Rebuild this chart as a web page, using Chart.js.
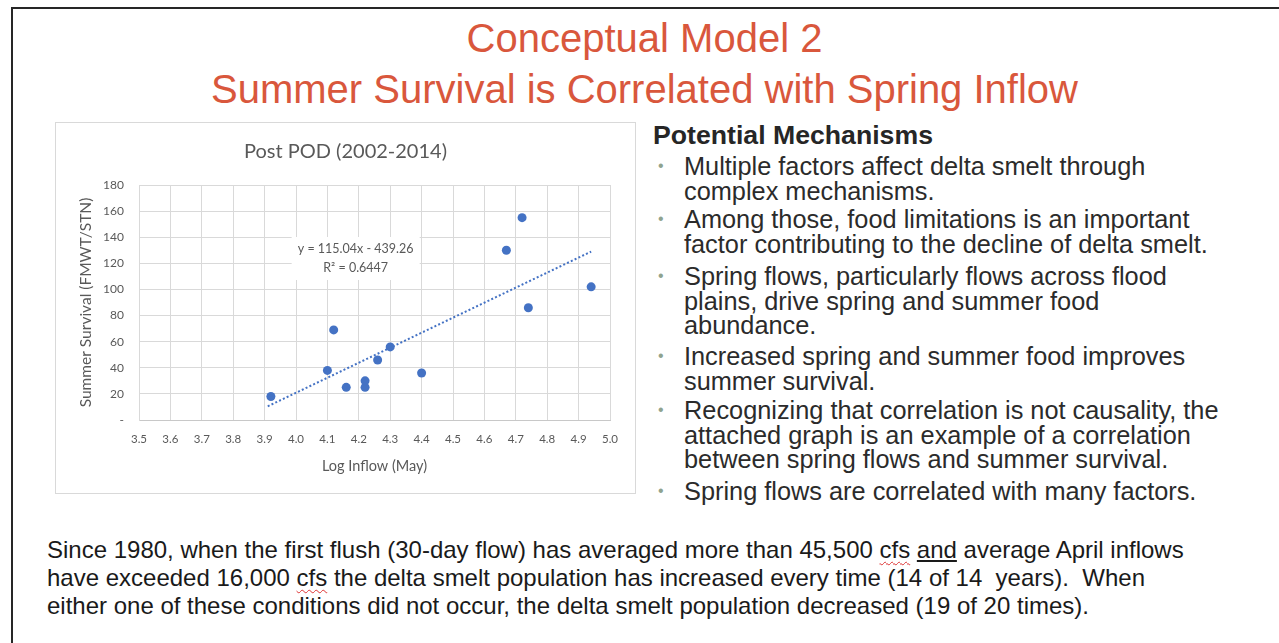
<!DOCTYPE html>
<html lang="en">
<head>
    <meta charset="UTF-8">
    <title>Conceptual Model 2 - Summer Survival is Correlated with Spring Inflow</title>
    <script src="https://cdn.jsdelivr.net/npm/chart.js"></script>
    <style>
        body {
            margin: 0;
            width: 1279px;
            height: 643px;
            overflow: hidden;
            position: relative;
            background: #fff;
            font-family: 'Liberation Sans', Arial, sans-serif;
        }
        #frame {
            position: absolute;
            left: 11px;
            top: 7px;
            width: 1300px;
            height: 700px;
            border-top: 2px solid #262626;
            border-left: 2px solid #262626;
        }
        .headline {
            position: absolute;
            left: 0;
            width: 1289px;
            text-align: center;
            color: #d9573c;
            font-size: 40px;
            line-height: 51px;
            white-space: nowrap;
        }
        #chartBox {
            position: absolute;
            left: 55px;
            top: 122px;
            width: 581px;
            height: 372px;
        }
        #chartBox canvas { position: absolute; left: 0; top: 0; }
        #chartBorder {
            position: absolute;
            left: 0; top: 0;
            width: 581px; height: 372px;
            box-sizing: border-box;
            border: 1px solid #d9d9d9;
            pointer-events: none;
        }
        #mechTitle {
            position: absolute;
            left: 653px;
            top: 120px;
            font-size: 26.67px;
            line-height: 30px;
            font-weight: bold;
            color: #262626;
            white-space: nowrap;
        }
        .item {
            position: absolute;
            left: 684px;
            font-size: 25.33px;
            line-height: 24.5px;
            color: #2b2b2b;
            white-space: nowrap;
        }
        .item::before {
            content: '\2022';
            position: absolute;
            left: -26px;
            top: 0;
            font-size: 16px;
            color: #8fa38f;
        }
        #note {
            position: absolute;
            left: 47px;
            top: 536px;
            font-size: 24px;
            line-height: 28px;
            color: #1a1a1a;
            white-space: nowrap;
        }
        .sp { text-decoration: underline wavy #d33; text-decoration-thickness: 1px; text-underline-offset: 3px; }
        .ul { text-decoration: underline; }
    </style>
</head>
<body>
    <div id="frame"></div>
    <div class="headline" style="top:13px">Conceptual Model 2</div>
    <div class="headline" style="top:64px">Summer Survival is Correlated with Spring Inflow</div>

    <div id="chartBox">
        <canvas id="chart" width="581" height="372"></canvas>
        <div id="chartBorder"></div>
    </div>

    <div id="mechTitle">Potential Mechanisms</div>
    <div class="item" style="top:154px">Multiple factors affect delta smelt through<br>complex mechanisms.</div>
    <div class="item" style="top:207px">Among those, food limitations is an important<br>factor contributing to the decline of delta smelt.</div>
    <div class="item" style="top:264px">Spring flows, particularly flows across flood<br>plains, drive spring and summer food<br>abundance.</div>
    <div class="item" style="top:344px">Increased spring and summer food improves<br>summer survival.</div>
    <div class="item" style="top:398px">Recognizing that correlation is not causality, the<br>attached graph is an example of a correlation<br>between spring flows and summer survival.</div>
    <div class="item" style="top:479px">Spring flows are correlated with many factors.</div>

    <div id="note">
        Since 1980, when the first flush (30-day flow) has averaged more than 45,500 <span class="sp">cfs</span> <span class="ul">and</span> average April inflows<br>
        have exceeded 16,000 <span class="sp">cfs</span> the delta smelt population has increased every time (14 of 14&nbsp; years).&nbsp; When<br>
        either one of these conditions did not occur, the delta smelt population decreased (19 of 20 times).
    </div>

    <script>
        // Post POD years 2002-2014: log of May inflow vs summer survival
        const logInflow = [3.92, 4.10, 4.12, 4.16, 4.22, 4.22, 4.26, 4.30, 4.40, 4.67, 4.72, 4.74, 4.94];
        const summerSurvival = [18, 38, 69, 25, 25, 30, 46, 56, 36, 130, 155, 86, 102];

        // linear trendline ends (y = 115.04x - 439.26)
        const trendInflow = [3.91, 4.94];
        const trendSurvival = [10.5, 129];
        const equationText = ['y = 115.04x - 439.26', 'R\u00b2 = 0.6447'];
        const equationAt = [4.19, 123.7];

        const xTickValues = [3.5, 3.6, 3.7, 3.8, 3.9, 4.0, 4.1, 4.2, 4.3, 4.4, 4.5, 4.6, 4.7, 4.8, 4.9, 5.0];
        const yTickValues = [0, 20, 40, 60, 80, 100, 120, 140, 160, 180];
        const yTickLabels = ['-', '20', '40', '60', '80', '100', '120', '140', '160', '180'];

        const chartTitle = 'Post POD (2002-2014)';
        const textGray = '#595959';
        const dotBlue = '#4472c4';

        const titlePlugin = {
            id: 'postPodTitle',
            afterDraw(chart) {
                const ctx = chart.ctx;
                ctx.save();
                ctx.fillStyle = textGray;
                ctx.font = '20px Lato';
                ctx.textAlign = 'center';
                ctx.textBaseline = 'middle';
                ctx.fillText(chartTitle, 290.5, 30);
                ctx.restore();
            }
        };

        const equationPlugin = {
            id: 'equationLabel',
            beforeDatasetsDraw(chart) {
                const { ctx, scales: { x, y } } = chart;
                const cx = x.getPixelForValue(equationAt[0]);
                const cy = y.getPixelForValue(equationAt[1]);
                ctx.save();
                ctx.fillStyle = '#fff';
                ctx.fillRect(cx - 64, cy - 21.5, 128, 43);
                ctx.fillStyle = textGray;
                ctx.font = '12.5px Lato';
                ctx.textAlign = 'center';
                ctx.textBaseline = 'middle';
                ctx.fillText(equationText[0], cx, cy - 10);
                ctx.fillText(equationText[1], cx, cy + 9);
                ctx.restore();
            }
        };

        new Chart(document.getElementById('chart'), {
            type: 'scatter',
            data: {
                datasets: [
                    {
                        label: 'Summer Survival',
                        data: logInflow.map((v, i) => ({ x: v, y: summerSurvival[i] })),
                        backgroundColor: dotBlue,
                        borderColor: dotBlue,
                        borderWidth: 0,
                        pointRadius: 4.5,
                        order: 0
                    },
                    {
                        label: 'Linear trend',
                        type: 'line',
                        data: trendInflow.map((v, i) => ({ x: v, y: trendSurvival[i] })),
                        borderColor: dotBlue,
                        borderWidth: 2,
                        borderDash: [2, 2.2],
                        pointRadius: 0,
                        fill: false,
                        order: 1
                    }
                ]
            },
            options: {
                responsive: false,
                animation: false,
                devicePixelRatio: 1,
                layout: { padding: { left: 0, right: 26, top: 63, bottom: 0 } },
                plugins: {
                    legend: { display: false },
                    tooltip: { enabled: false },
                    title: { display: false }
                },
                scales: {
                    x: {
                        type: 'linear',
                        min: 3.5,
                        max: 5.0,
                        afterBuildTicks: s => { s.ticks = xTickValues.map(v => ({ value: v })); },
                        afterFit: s => { s.height = 74; },
                        grid: { color: '#d9d9d9', drawTicks: false },
                        border: { color: '#c8c8c8' },
                        ticks: {
                            padding: 12,
                            color: textGray,
                            font: { family: 'Lato', size: 11.5 },
                            maxRotation: 0,
                            autoSkip: false,
                            callback: v => v.toFixed(1)
                        },
                        title: {
                            display: true,
                            text: 'Log Inflow (May)',
                            color: textGray,
                            font: { family: 'Lato', size: 14.5 },
                            padding: { top: 0, bottom: 18.6 }
                        }
                    },
                    y: {
                        type: 'linear',
                        min: 0,
                        max: 180,
                        afterBuildTicks: s => { s.ticks = yTickValues.map(v => ({ value: v })); },
                        afterFit: s => { s.width = 84; },
                        grid: { color: '#d9d9d9', drawTicks: false },
                        border: { color: '#d9d9d9' },
                        ticks: {
                            padding: 15,
                            color: textGray,
                            font: { family: 'Lato', size: 12 },
                            callback: (v, i) => yTickLabels[i]
                        },
                        title: {
                            display: true,
                            text: 'Summer Survival (FMWT/STN)',
                            color: textGray,
                            font: { family: 'Lato', size: 15.5 },
                            padding: { top: 21.7, bottom: 0 }
                        }
                    }
                }
            },
            plugins: [titlePlugin, equationPlugin]
        });
    </script>
</body>
</html>
